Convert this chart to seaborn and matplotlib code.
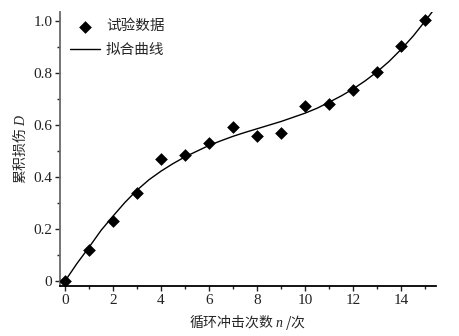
import matplotlib
matplotlib.use("Agg")
import matplotlib.pyplot as plt
from matplotlib.ticker import MultipleLocator
import seaborn as sns

# experimental points (cycles n, cumulative damage D)
n_test = [0, 1, 2, 3, 4, 5, 6, 7, 8, 9, 10, 11, 12, 13, 14, 15]
d_test = [0.0, 0.12, 0.23, 0.34, 0.468, 0.485, 0.53, 0.593, 0.558, 0.568,
          0.674, 0.682, 0.735, 0.805, 0.904, 1.004]

# fitted curve
n_fit = [0, 0.5, 1, 1.5, 2, 2.5, 3, 3.5, 4, 4.5, 5, 5.5, 6, 6.5, 7, 7.5, 8,
         8.5, 9, 9.5, 10, 10.5, 11, 11.5, 12, 12.5, 13, 13.5, 14, 14.5, 15, 15.35]
d_fit = [0.0, 0.068, 0.13, 0.195, 0.25, 0.303, 0.35, 0.39, 0.423, 0.452,
         0.478, 0.50, 0.522, 0.54, 0.557, 0.572, 0.586, 0.60, 0.614, 0.63,
         0.646, 0.665, 0.688, 0.712, 0.739, 0.77, 0.805, 0.845, 0.891, 0.942,
         1.0, 1.042]

x_ticks = [0, 2, 4, 6, 8, 10, 12, 14]
y_ticks = [0, 0.2, 0.4, 0.6, 0.8, 1.0]
y_tick_labels = ["0", "0.2", "0.4", "0.6", "0.8", "1.0"]

sns.set_style("ticks")
plt.rcParams['font.family'] = ['Noto Sans CJK SC', 'DejaVu Sans']
plt.rcParams['mathtext.fontset'] = 'custom'
plt.rcParams['mathtext.it'] = 'Liberation Serif:italic'
plt.rcParams['mathtext.rm'] = 'Liberation Serif'

fig, ax = plt.subplots(figsize=(4.59, 3.36), dpi=100)
fig.subplots_adjust(left=0.1307, right=0.95, bottom=0.1488, top=0.964)

sns.lineplot(x=n_fit, y=d_fit, color="black", lw=1.0, ax=ax, label="拟合曲线")
sns.scatterplot(x=n_test, y=d_test, marker="D", s=42, color="black",
                linewidth=0, ax=ax, label="试验数据", zorder=3)

ax.set_xlim(-0.21, 15.46)
ax.set_ylim(-0.019, 1.035)
ax.set_xticks(x_ticks)
ax.set_yticks(y_ticks)
ax.set_yticklabels(y_tick_labels)
ax.xaxis.set_minor_locator(MultipleLocator(1))
ax.yaxis.set_minor_locator(MultipleLocator(0.1))
ax.tick_params(which="major", direction="out", length=3.4, width=1.0,
               labelsize=11, pad=2, colors="#222222")
ax.tick_params(which="minor", direction="out", length=1.9, width=1.0,
               colors="#222222")
for lab in ax.get_xticklabels() + ax.get_yticklabels():
    lab.set_fontfamily("Liberation Serif")

sns.despine(ax=ax)
ax.spines["left"].set_color("#6a6a6a")
ax.spines["left"].set_linewidth(1.3)
ax.spines["bottom"].set_color("black")
ax.spines["bottom"].set_linewidth(1.3)

ax.set_xlabel("循环冲击次数 $n$ /次", fontsize=10, labelpad=4)
ax.set_ylabel("累积损伤 $D$", fontsize=10, labelpad=4)

handles, labels = ax.get_legend_handles_labels()
ax.legend(handles[::-1], labels[::-1], loc="upper left",
          bbox_to_anchor=(0.006, 1.0), borderpad=0, frameon=False,
          fontsize=10.5, handlelength=2.1, handletextpad=0.4, labelspacing=0.65)

fig.savefig("out.png", dpi=100)
